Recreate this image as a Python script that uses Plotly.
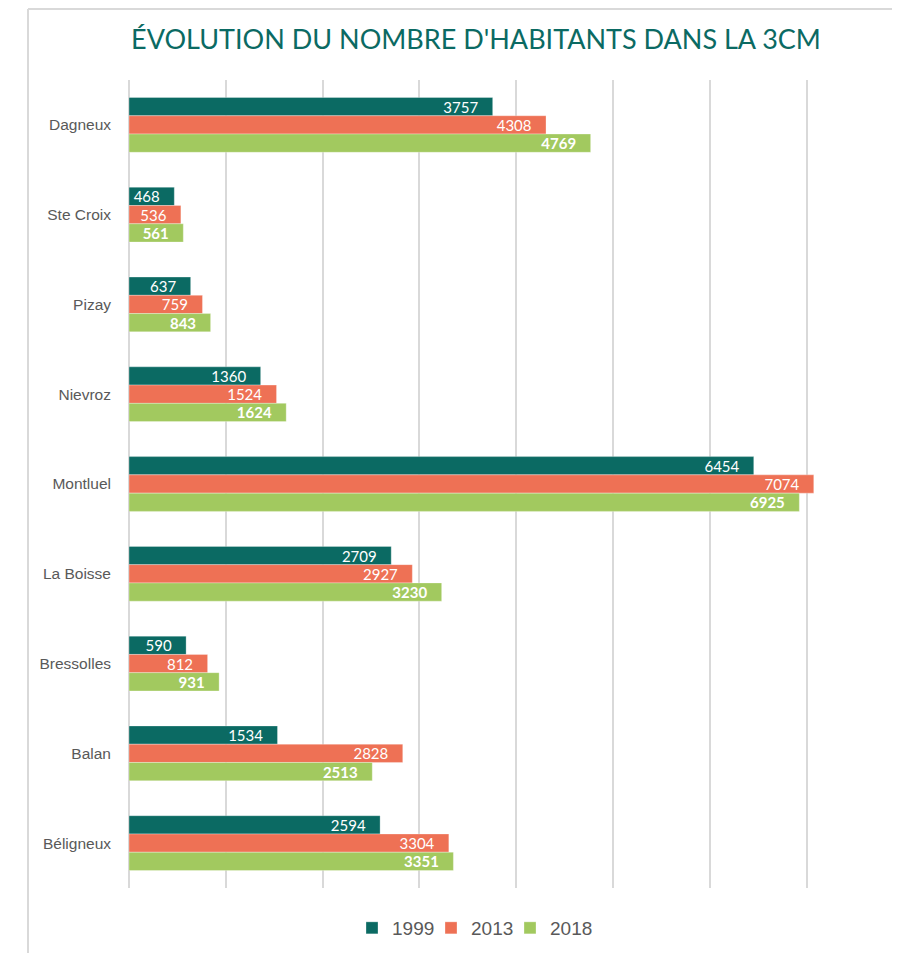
import plotly.graph_objects as go

communes = ["Dagneux", "Ste Croix", "Pizay", "Nievroz", "Montluel",
            "La Boisse", "Bressolles", "Balan", "Béligneux"]
v1999 = [3757, 468, 637, 1360, 6454, 2709, 590, 1534, 2594]
v2013 = [4308, 536, 759, 1524, 7074, 2927, 812, 2828, 3304]
v2018 = [4769, 561, 843, 1624, 6925, 3230, 931, 2513, 3351]
series = [("1999", v1999, "#0B6A63", False),
          ("2013", v2013, "#EE7155", False),
          ("2018", v2018, "#A2C95F", True)]

PAD = "\u00a0\u00a0\u00a0"

fig = go.Figure()
for name, vals, col, bold in series:
    fig.add_trace(go.Bar(
        y=communes, x=vals, name=name, orientation="h",
        marker=dict(color=col, line=dict(color="rgba(255,255,255,0.6)", width=0.5)),
        text=[(f"<b>{v}</b>{PAD}" if bold else f"{v}{PAD}") for v in vals],
        textposition="inside", insidetextanchor="end", constraintext="none",
        textfont=dict(color="white", size=15, family="Lato, Liberation Sans, sans-serif"),
        cliponaxis=False,
    ))
# invisible spacer entry so the last legend label is not clipped
fig.add_trace(go.Scatter(x=[None], y=[None], mode="markers", name=" ",
                         marker=dict(color="rgba(0,0,0,0)", size=1, opacity=0,
                                     line=dict(width=0, color="rgba(0,0,0,0)")),
                         hoverinfo="skip"))

OFF = 8  # browser body margin
W, H = 900 - OFF, 953 - OFF
L = 129 - OFF
T = 80 - OFF
B = H - (888 - OFF)
R = 0
pw = W - L - R
ph = H - T - B

def py(screen_y):
    return (888 - screen_y) / ph

def px(screen_x):
    return (screen_x - 129) / pw

fig.update_layout(
    width=W, height=H,
    margin=dict(l=L, r=R, t=T, b=B),
    paper_bgcolor="white", plot_bgcolor="white",
    barmode="group", bargap=0.39, bargroupgap=0,
    title=dict(text="ÉVOLUTION DU NOMBRE D'HABITANTS DANS LA 3CM",
               x=(476 - OFF) / W, xanchor="center", y=1 - (40 - OFF) / H, yanchor="middle",
               font=dict(size=27, color="#0B6A63", family="Lato, Open Sans, sans-serif")),
    xaxis=dict(range=[0, pw / 96.8 * 1000], dtick=1000, tick0=0,
               showgrid=True, gridcolor="#D9D9D9", gridwidth=1.5,
               zeroline=True, zerolinecolor="#D9D9D9", zerolinewidth=1.5,
               showticklabels=False, ticks="", showline=False, fixedrange=True),
    yaxis=dict(autorange="reversed", showgrid=False, showline=False, ticks="",
               ticklabelstandoff=17,
               tickfont=dict(size=15.5, color="#595959", family="Liberation Sans, Open Sans, sans-serif")),
    legend=dict(orientation="h", x=px(352), xanchor="left",
                y=py(928), yanchor="middle",
                font=dict(size=19, color="#595959", family="Liberation Sans, sans-serif"),
                entrywidth=34, entrywidthmode="pixels",
                traceorder="normal"),
    showlegend=True,
    shapes=[
        dict(type="line", xref="paper", yref="paper",
             x0=px(28), x1=1.05, y0=py(9), y1=py(9),
             line=dict(color="#D9D9D9", width=2)),
        dict(type="line", xref="paper", yref="paper",
             x0=px(28), x1=px(28), y0=py(9), y1=py(960),
             line=dict(color="#D9D9D9", width=2)),
    ],
)

fig.write_html("out.html")
